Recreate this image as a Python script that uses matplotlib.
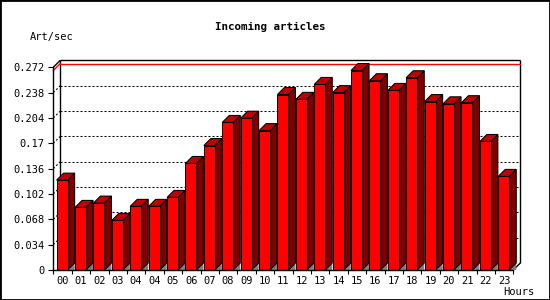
import matplotlib
matplotlib.use("Agg")
import matplotlib.pyplot as plt
from matplotlib.patches import Polygon, Rectangle
import numpy as np

hours = ["00", "01", "02", "03", "04", "04", "05", "06", "07", "08", "09", "10",
         "11", "12", "13", "14", "15", "16", "17", "18", "19", "20", "21", "22", "23"]
rate = [0.1206, 0.084, 0.0898, 0.0666, 0.0854, 0.0854, 0.0974, 0.143, 0.167,
        0.198, 0.2037, 0.187, 0.2355, 0.229, 0.249, 0.238, 0.2677, 0.254, 0.241,
        0.258, 0.226, 0.223, 0.2245, 0.1725, 0.1256]
y_ticks = [0, 0.034, 0.068, 0.102, 0.136, 0.17, 0.204, 0.238, 0.272]
y_tick_labels = ["0", "0.034", "0.068", "0.102", "0.136", "0.17", "0.204", "0.238", "0.272"]

plt.rcParams['font.family'] = ['DejaVu Sans Mono']
plt.rcParams['font.size'] = 7.5
plt.rcParams['lines.scale_dashes'] = False

W, H = 550, 300
fig = plt.figure(figsize=(W / 100, H / 100), dpi=100)
ax_l, ax_b, ax_w, ax_h = 53.3, 30.0, 460.0, 202.7
ax = fig.add_axes([ax_l / W, ax_b / H, ax_w / W, ax_h / H])
n = len(rate)
ymax = y_ticks[-1]
ax.set_xlim(0, n)
ax.set_ylim(0, ymax)

depth_px = 7.0
DX = depth_px / (ax_w / n)
DY = depth_px / (ax_h / ymax)

# back plane frame
kw = dict(color='black', lw=1.0, clip_on=False, zorder=1, solid_capstyle='butt')
ax.plot([DX, n + DX], [ymax + DY, ymax + DY], **kw)
ax.plot([DX, DX], [DY, ymax + DY], **kw)
ax.plot([n + DX, n + DX], [DY, ymax + DY], **kw)
ax.plot([0, DX], [ymax, ymax + DY], **kw)
ax.plot([n, n + DX], [0, DY], **kw)

# dotted grid on back plane and left wall
for t in y_ticks[1:-1]:
    ax.plot([DX, n + DX], [t + DY, t + DY], color='black', lw=0.75,
            linestyle=(0, (1.44, 1.44)), clip_on=False, zorder=1)
    ax.plot([0, DX], [t, t + DY], color='black', lw=0.75,
            linestyle=(0, (1.44, 1.44)), clip_on=False, zorder=1)

# max line (red)
vmax = max(rate)
ax.plot([DX, n + DX], [vmax + DY, vmax + DY], color='#ff0000', lw=1.0, clip_on=False, zorder=1.2)
ax.plot([0, DX], [vmax, vmax + DY], color='#ff0000', lw=1.0, clip_on=False, zorder=1.2)

# bars
BAR_OFF, BAR_W = 0.18, 0.6
for i, v in enumerate(rate):
    x0 = i + BAR_OFF
    x1 = x0 + BAR_W
    ax.add_patch(Polygon([(x1, 0), (x1 + DX, DY), (x1 + DX, 0)], closed=True,
                         fc='#808080', ec='none', clip_on=False, zorder=1.5))
    ax.add_patch(Polygon([(x1, 0), (x1 + DX, DY), (x1 + DX, v + DY), (x1, v)], closed=True,
                         fc='#800000', ec='black', lw=0.75, clip_on=False, zorder=2))
    ax.add_patch(Polygon([(x0, v), (x1, v), (x1 + DX, v + DY), (x0 + DX, v + DY)], closed=True,
                         fc='#c00000', ec='black', lw=0.75, clip_on=False, zorder=2))
    ax.add_patch(Rectangle((x0, 0), BAR_W, v, fc='#ff0000', ec='black', lw=0.75,
                           clip_on=False, zorder=2))

# axes styling
for s in ['top', 'right']:
    ax.spines[s].set_visible(False)
for s in ['left', 'bottom']:
    ax.spines[s].set_linewidth(1.0)
ax.patch.set_visible(False)
ax.set_yticks(y_ticks, y_tick_labels)
ax.set_xticks(np.arange(n + 1))
ax.set_xticklabels([])
ax.set_xticks(np.arange(n) + 0.5, minor=True)
ax.set_xticklabels(hours, minor=True)
ax.tick_params(axis='y', length=3.5, width=0.8, pad=3)
ax.tick_params(axis='x', which='major', length=3, width=0.8)
ax.tick_params(axis='x', which='minor', length=0, pad=4)

fig.text(270 / W, 1 - 27 / H, "Incoming articles", ha='center', va='center',
         fontweight='bold', fontsize=7.8)
fig.text(30 / W, 1 - 37 / H, "Art/sec", ha='left', va='center')
fig.text(534 / W, 1 - 292 / H, "Hours", ha='right', va='center')

fig.add_artist(Rectangle((0, 0), 1, 1, transform=fig.transFigure, fill=False,
                         ec='black', lw=2.0))

fig.savefig('out.png', dpi=100)
